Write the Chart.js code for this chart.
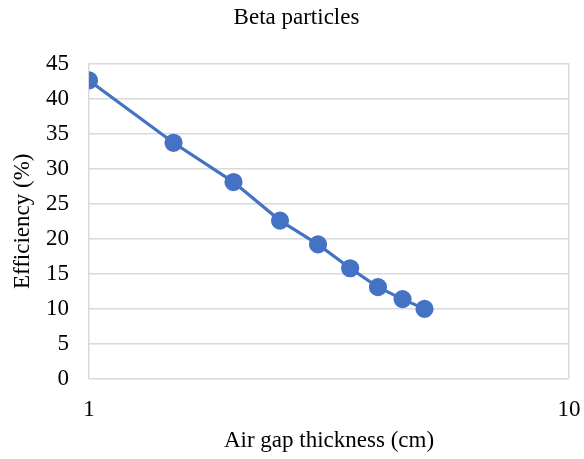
<!DOCTYPE html>
<html>
<head>
<meta charset="utf-8">
<script src="https://cdn.jsdelivr.net/npm/chart.js@4"></script>
<style>
  html, body { margin: 0; padding: 0; background: #fff; }
  #wrap { width: 584px; height: 459px; }
</style>
</head>
<body>
<div id="wrap"><canvas id="chart" width="584" height="459"></canvas></div>
<script>
// Дані графіка
const airGap = [1, 1.5, 2, 2.5, 3, 3.5, 4, 4.5, 5];
const efficiency = [42.6, 33.7, 28.1, 22.6, 19.2, 15.8, 13.1, 11.4, 10.0];
const xTicks = [1, 10];

const font = 'Liberation Serif, Times New Roman, serif';
const gridColor = '#d9d9d9';

new Chart(document.getElementById('chart'), {
    type: 'line',
    data: {
        datasets: [{
            label: 'Beta particles',
            data: airGap.map((x, i) => ({ x: x, y: efficiency[i] })),
            borderColor: '#4472c4',
            backgroundColor: '#4472c4',
            borderWidth: 3.2,
            pointRadius: 7.5,
            pointHoverRadius: 7.5,
            tension: 0
        }]
    },
    options: {
        responsive: false,
        animation: false,
        // лівий відступ зсуває заголовок праворуч, як в оригіналі
        layout: { padding: { left: 24, right: 15, top: 0, bottom: 4 } },
        plugins: {
            legend: { display: false },
            tooltip: { enabled: false },
            title: {
                display: true,
                text: 'Beta particles',
                color: '#000',
                font: { family: font, size: 23, weight: 'normal' },
                padding: { top: 4, bottom: 32 }
            }
        },
        scales: {
            x: {
                type: 'logarithmic',
                min: 1,
                max: 10,
                afterBuildTicks: axis => { axis.ticks = xTicks.map(v => ({ value: v })); },
                afterFit: axis => {
                    axis.height = 76;
                    axis.paddingLeft = 0;
                    axis.paddingRight = 0;
                },
                grid: { color: gridColor, lineWidth: 1.5, drawTicks: false },
                border: { display: false },
                ticks: {
                    color: '#000',
                    font: { family: font, size: 23 },
                    padding: 17,
                    maxRotation: 0,
                    callback: v => String(v)
                },
                title: {
                    display: true,
                    text: 'Air gap thickness (cm)',
                    color: '#000',
                    font: { family: font, size: 23 },
                    padding: { top: 2, bottom: 0 }
                }
            },
            y: {
                min: 0,
                max: 45,
                afterFit: axis => { axis.width = 65; },
                ticks: {
                    stepSize: 5,
                    color: '#000',
                    font: { family: font, size: 23 },
                    padding: 20
                },
                grid: { color: gridColor, lineWidth: 1.5, drawTicks: false },
                border: { display: false },
                title: {
                    display: true,
                    text: 'Efficiency (%)',
                    color: '#000',
                    font: { family: font, size: 23 },
                    padding: { top: -15, bottom: 0 }
                }
            }
        }
    }
});
</script>
</body>
</html>
